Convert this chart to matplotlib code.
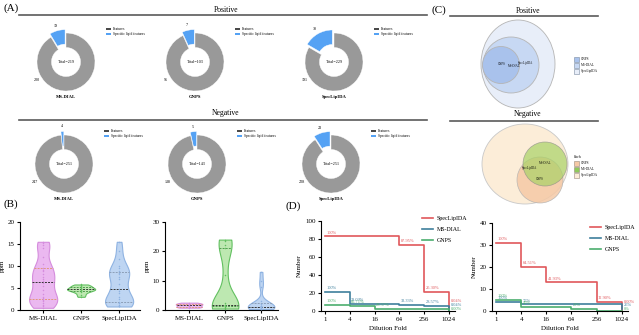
import numpy as np
import matplotlib.pyplot as plt
from matplotlib.patches import Ellipse, Rectangle

plt.rcParams['font.family'] = ['Liberation Serif', 'DejaVu Serif']

W, H = 639, 335

# ---- (A) donut data ----
tools = ['MS-DIAL', 'GNPS', 'SpecLipIDA']
pos_specific = [19, 7, 38]
pos_features = [200, 96, 191]
pos_total = [219, 103, 229]
neg_specific = [4, 5, 23]
neg_features = [247, 138, 228]
neg_total = [251, 143, 251]

# ---- (B) mass error (ppm) ----
pos_ppm = {
    'MS-DIAL': [0.5, 0.8, 1.2, 1.6, 2.0, 2.2, 2.4, 2.7, 3.0, 3.6, 4.5, 5.5, 6.1,
                6.5, 7.0, 7.6, 8.2, 8.8, 9.2, 9.6, 10.4, 12.0, 14.0, 14.8, 15.2, 15.5],
    'GNPS': [3.0, 3.5, 4.0, 4.3, 4.5, 4.6, 4.7, 4.8, 5.0, 5.2, 5.4, 5.6, 5.8],
    'SpecLipIDA': [0.8, 0.9, 1.0, 1.2, 1.5, 1.7, 1.9, 2.5, 3.0, 3.8, 4.3, 4.8,
                   6.0, 7.0, 7.6, 8.2, 8.5, 8.9, 9.5, 10.0, 11.5, 13.5, 15.5],
}
neg_ppm = {
    'MS-DIAL': [0.8, 1.0, 1.2, 1.5, 1.8, 2.0, 2.2, 2.5],
    'GNPS': [0.5, 0.8, 1.0, 1.3, 1.5, 1.7, 1.8, 2.5, 12.0, 21.0, 22.0, 23.5, 24.0],
    'SpecLipIDA': [0.3, 0.5, 0.7, 0.8, 0.9, 1.0, 1.0, 1.1, 1.2, 1.3, 1.5, 2.0,
                   3.0, 8.0, 10.0, 13.0],
}

# ---- (D) dilution series ----
dilution = [1, 4, 16, 64, 256, 1024]
pos_counts = {
    'SpecLipIDA': [83, 83, 83, 73, 21, 2],
    'MS-DIAL': [21, 8, 8, 7, 6, 1],
    'GNPS': [7, 6, 2, 2, 2, 0],
}
pos_labels = {
    'SpecLipIDA': ['100%', '', '', '87.95%', '25.30%', '0.04%'],
    'MS-DIAL': ['100%', '38.09%', '', '33.33%', '28.57%', '0.04%'],
    'GNPS': ['100%', '85.71%', '28.57%', '', '', '0.00%'],
}
neg_counts = {
    'SpecLipIDA': [31, 20, 13, 13, 4, 0],
    'MS-DIAL': [4, 3, 3, 3, 3, 1],
    'GNPS': [5, 2, 2, 1, 0, 0],
}
neg_labels = {
    'SpecLipIDA': ['100%', '64.51%', '41.93%', '', '12.90%', '0.00%'],
    'MS-DIAL': ['100%', '75%', '', '', '', '25%'],
    'GNPS': ['100%', '40%', '', '20%', '', '0%'],
}

line_colors = {'SpecLipIDA': '#e0575b', 'MS-DIAL': '#3e7f9c', 'GNPS': '#4cae6e'}
violin_fill = {'MS-DIAL': '#ebb8f0', 'GNPS': '#bde8b1', 'SpecLipIDA': '#bed5f2'}
violin_edge = {'MS-DIAL': '#d58ddd', 'GNPS': '#62c060', 'SpecLipIDA': '#8fb3e2'}
violin_q = {'MS-DIAL': '#e09a7a', 'GNPS': '#4f9a4d', 'SpecLipIDA': '#8c9fb8'}

gray = '#999999'
blue = '#55a2f4'


def px_axes(x0, y0, x1, y1):
    return fig.add_axes([x0 / W, 1 - y1 / H, (x1 - x0) / W, (y1 - y0) / H])


fig = plt.figure(figsize=(W / 100, H / 100), dpi=100)

ov = px_axes(0, 0, W, H)
ov.set_xlim(0, W)
ov.set_ylim(H, 0)
ov.axis('off')

# panel labels and section headers
for lab, x, y in [('(A)', 3, 8), ('(B)', 3, 204), ('(C)', 432, 10), ('(D)', 286, 206)]:
    ov.text(x, y, lab, fontsize=8, va='center', ha='left')
for txt, y_line, y_txt in [('Positive', 15, 9.5), ('Negative', 120, 113)]:
    ov.plot([19, 427], [y_line, y_line], color='#5a5a5a', lw=1.2)
    ov.text(226, y_txt, txt, fontsize=5.5, ha='center', va='center')
    ov.plot([450, 598], [y_line + 1, y_line + 1], color='#5a5a5a', lw=1.2)
    ov.text(528, y_txt + 1.5, txt, fontsize=5.5, ha='center', va='center')

# ---- (A) donuts ----
pos_cx = [66, 195, 334]
neg_cx = [64, 197, 331]
R = 29
for row, (cy, spec, feat, tot) in enumerate([(62, pos_specific, pos_features, pos_total),
                                              (164, neg_specific, neg_features, neg_total)]):
    cxs = pos_cx if row == 0 else neg_cx
    for i, name in enumerate(tools):
        cx = cxs[i]
        ax = px_axes(cx - 40, cy - 40, cx + 40, cy + 40)
        ax.pie([spec[i], feat[i]], colors=[blue, gray], startangle=90, counterclock=True,
               explode=[0.12, 0], radius=1,
               wedgeprops=dict(width=0.5, edgecolor='white', linewidth=0.3))
        lim = 40 / R
        ax.set_xlim(-lim, lim)
        ax.set_ylim(-lim, lim)
        ax.set_aspect('equal')
        mid = np.deg2rad(90 + spec[i] / (spec[i] + feat[i]) * 180)
        ax.text(1.3 * np.cos(mid), 1.3 * np.sin(mid), str(spec[i]), fontsize=3,
                ha='center', va='center')
        a2 = np.deg2rad(212)
        ax.text(1.2 * np.cos(a2), 1.2 * np.sin(a2), str(feat[i]), fontsize=3,
                ha='center', va='center')
        ax.text(0, 0, 'Total=%d' % tot[i], fontsize=3, ha='center', va='center')
        ov.text(cx, cy + R + 6, name, fontsize=3.3, fontweight='bold', ha='center', va='center')
        # legend
        lx, ly = cx + 40, cy - 33
        for k, (c, t) in enumerate([('#4a4a4a', 'Features'), (blue, 'Specific lipid features')]):
            ov.add_patch(Rectangle((lx, ly + k * 5 - 1), 5, 2.2, color=c, lw=0))
            ov.add_patch(Rectangle((lx, ly + k * 5 + 0.6), 5, 0.6, color='#2f4f5f', lw=0))
            ov.text(lx + 7, ly + k * 5, t, fontsize=2.6, va='center', ha='left')

# ---- (C) Venn diagrams ----
pos_venn = [('SpecLipIDA', (518, 64), 37, 44, '#e8eef9'),
            ('MS-DIAL', (511, 65), 28, 28, '#c7d8f3'),
            ('GNPS', (501, 65), 18.5, 18.5, '#a9c2ec')]
for name, c, rx, ry, col in pos_venn:
    ov.add_patch(Ellipse(c, 2 * rx, 2 * ry, facecolor=col, edgecolor='#b5b5b5', lw=0.6))
ov.text(502, 64, 'GNPS', fontsize=2.2, ha='center', va='center')
ov.text(514, 66, 'MS-DIAL', fontsize=2.2, ha='center', va='center')
ov.text(525, 63, 'SpecLipIDA', fontsize=2.2, ha='center', va='center')
for k, (name, c, rx, ry, col) in enumerate(pos_venn[::-1]):
    ov.add_patch(Rectangle((574, 57 + k * 6), 5, 4.5, facecolor=col, edgecolor='#7a8aa0', lw=0.4))
    ov.text(581, 59.3 + k * 6, name, fontsize=2.4, va='center')

ov.add_patch(Ellipse((525, 164), 86, 80, facecolor='#fcedd8', edgecolor='#c8c8c8', lw=0.6))
ov.add_patch(Ellipse((540, 180), 46, 46, facecolor='#f5c9a6', edgecolor='#b0b0b0', lw=0.5, alpha=0.85))
ov.add_patch(Ellipse((545, 164), 44, 44, facecolor='#a9d266', edgecolor='#8a8a8a', lw=0.5, alpha=0.7))
ov.text(537, 168, 'SpecLipIDA', fontsize=2.2, ha='right', va='center')
ov.text(545, 163, 'MS-DIAL', fontsize=2.2, ha='center', va='center')
ov.text(540, 179, 'GNPS', fontsize=2.2, ha='center', va='center')
ov.text(574, 157, 'labels', fontsize=2.4, va='center')
for k, (col, name) in enumerate([('#f5c9a6', 'GNPS'), ('#8fcb5a', 'MS-DIAL'), ('#fcedd8', 'SpecLipIDA')]):
    ov.add_patch(Rectangle((574, 161 + k * 6), 5, 4.5, facecolor=col, edgecolor='#9a8a7a', lw=0.4))
    ov.text(581, 163.3 + k * 6, name, fontsize=2.4, va='center')


# ---- (B) violins ----
def kde(vals, grid):
    v = np.asarray(vals, dtype=float)
    bw = max(0.7 * v.std(ddof=1) * len(v) ** (-0.2), 0.3)
    d = np.exp(-0.5 * ((grid[:, None] - v[None, :]) / bw) ** 2).sum(1)
    return d / d.max()


def violins(ax, data):
    for p, name in enumerate(tools, start=1):
        v = np.asarray(data[name])
        grid = np.linspace(v.min(), v.max(), 300)
        half = 0.37 * kde(v, grid)
        ax.fill_betweenx(grid, p - half, p + half, facecolor=violin_fill[name],
                         edgecolor=violin_edge[name], lw=0.8)
        q1, med, q3 = np.percentile(v, [25, 50, 75])
        for q, col in [(q1, violin_q[name]), (med, '#333333'), (q3, violin_q[name])]:
            w = np.interp(q, grid, half)
            ax.plot([p - w, p + w], [q, q], ls=(0, (2, 1.2)), color=col, lw=0.7)
        ax.scatter(np.full(len(v), p), v, s=1.2, color=violin_edge[name], zorder=3, lw=0)
    ax.set_xticks([1, 2, 3])
    ax.set_xticklabels(tools)
    ax.set_ylabel('ppm', fontsize=5, labelpad=2)


def style(ax):
    for s in ['top', 'right']:
        ax.spines[s].set_visible(False)
    for s in ['left', 'bottom']:
        ax.spines[s].set_linewidth(0.8)
    ax.tick_params(labelsize=5, length=2.5, width=0.8, pad=1.5)


bl = px_axes(20, 222, 140, 310)
violins(bl, pos_ppm)
bl.set_ylim(0, 20)
bl.set_yticks([0, 5, 10, 15, 20])
bl.set_xlim(0.39, 3.55)
style(bl)

br = px_axes(165, 222, 278, 310)
violins(br, neg_ppm)
br.set_ylim(0, 30)
br.set_yticks([0, 10, 20, 30])
br.set_xlim(0.33, 3.47)
style(br)


# ---- (D) dilution step plots ----
def steps(ax, counts, labels, ymax, leg_xy):
    off = ymax * 0.02
    for name in ['SpecLipIDA', 'MS-DIAL', 'GNPS']:
        ax.step(dilution, counts[name], where='post', color=line_colors[name], lw=1.2,
                label=name)
        for k, t in enumerate(labels[name][:-1]):
            if t:
                ax.text(dilution[k] * 1.08, counts[name][k] + off, t, fontsize=3.2,
                        color=line_colors[name], va='bottom', ha='left')
    ends = [('SpecLipIDA', 0.085), ('MS-DIAL', 0.045), ('GNPS', 0.005)]
    for name, fy in ends:
        ax.text(1024 * 1.12, ymax * fy, labels[name][-1], fontsize=3.2,
                color=line_colors[name], va='bottom', ha='left', clip_on=False)
    ax.set_xscale('log', base=2)
    ax.set_xticks(dilution)
    ax.set_xticklabels([str(d) for d in dilution])
    ax.minorticks_off()
    ax.set_xlim(0.8, 1448)
    ax.set_ylim(0, ymax)
    ax.set_xlabel('Dilution Fold', fontsize=5, labelpad=3)
    ax.set_ylabel('Number', fontsize=5, labelpad=2)
    style(ax)
    ax.legend(frameon=False, fontsize=4.3, loc='upper left',
              bbox_to_anchor=(leg_xy[0] / W, 1 - leg_xy[1] / H),
              bbox_transform=fig.transFigure, borderaxespad=0, borderpad=0.3,
              handlelength=1.8, labelspacing=0.95, handletextpad=0.7)


dl = px_axes(321, 221, 455, 311)
steps(dl, pos_counts, pos_labels, 100, (420, 214))
dl.set_yticks([0, 20, 40, 60, 80, 100])

dr = px_axes(492, 223, 628, 311)
steps(dr, neg_counts, neg_labels, 40, (588, 223))
dr.set_yticks([0, 10, 20, 30, 40])

fig.savefig('out.png', dpi=100)
